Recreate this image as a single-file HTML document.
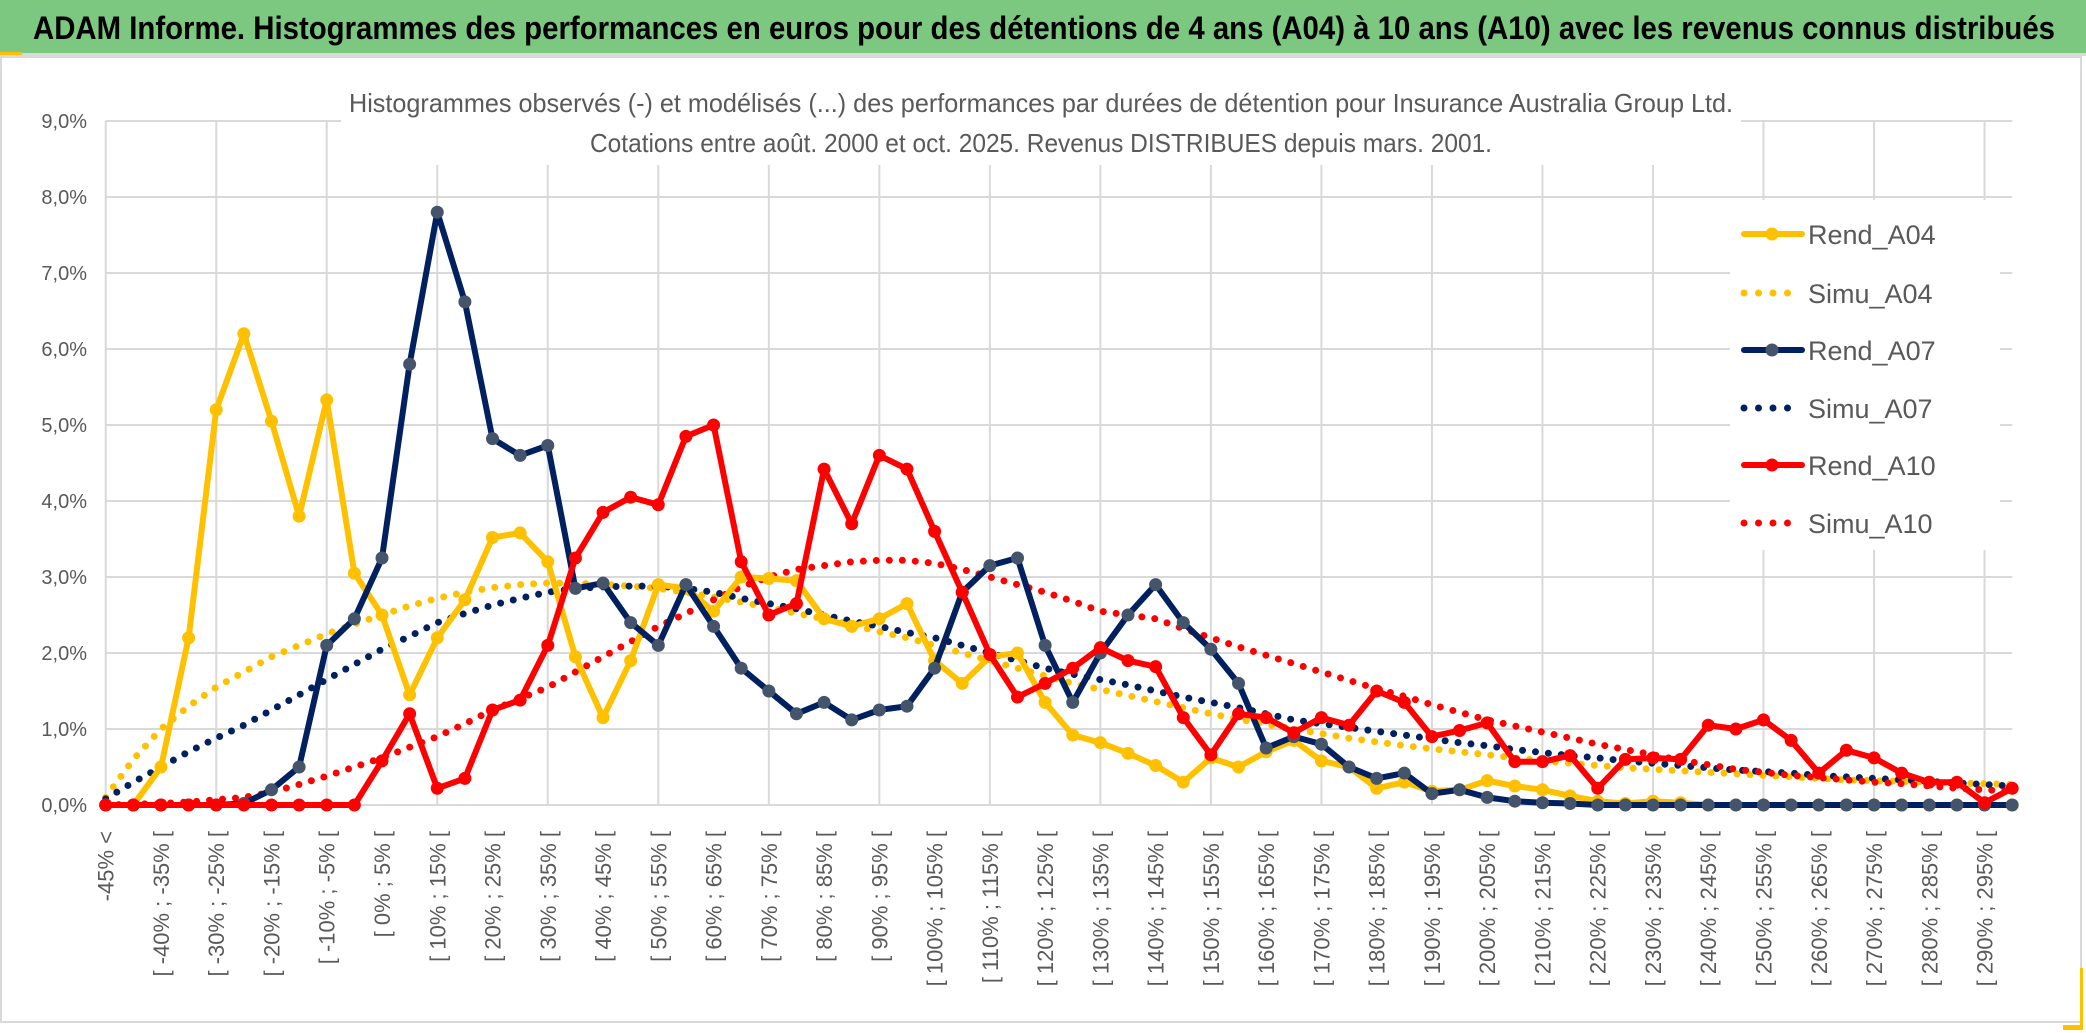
<!DOCTYPE html>
<html><head><meta charset="utf-8"><style>
html,body{margin:0;padding:0;background:#fff;}
svg{display:block;}
text{font-family:"Liberation Sans Narrow","Liberation Sans",sans-serif;}
</style></head><body>
<svg id="chart" width="2086" height="1033" viewBox="0 0 2086 1033" xmlns="http://www.w3.org/2000/svg">
<rect x="0" y="0" width="2086" height="53" fill="#7DC880"/>
<rect x="0" y="53" width="2086" height="3" fill="#d9d9d9"/>
<rect x="0" y="52" width="22" height="3" fill="#FFC000"/>
<text x="33" y="39" font-size="32" font-weight="bold" fill="#000" textLength="2022" lengthAdjust="spacingAndGlyphs">ADAM Informe. Histogrammes des performances en euros pour des détentions de 4 ans (A04) à 10 ans (A10) avec les revenus connus distribués</text>
<rect x="1" y="57" width="2080" height="965" fill="none" stroke="#d9d9d9" stroke-width="2"/>
<rect x="2080" y="968" width="3" height="62" fill="#FFC000"/>
<rect x="2063" y="1025" width="20" height="5" fill="#FFC000"/>
<g id="grid"></g>
<rect x="341" y="62" width="1400" height="103" fill="#fff"/>
<text x="1041" y="112" font-size="26" fill="#595959" text-anchor="middle" textLength="1384" lengthAdjust="spacingAndGlyphs">Histogrammes observés (-) et modélisés (...) des performances par durées de détention pour Insurance Australia Group Ltd.</text>
<text x="1041" y="152" font-size="26" fill="#595959" text-anchor="middle" textLength="902" lengthAdjust="spacingAndGlyphs">Cotations entre août. 2000 et oct. 2025. Revenus DISTRIBUES depuis mars. 2001.</text>
<g id="yaxis"></g>
<g id="xaxis"></g>
<g id="series"></g>
<g id="legend"></g>
</svg>
<script>
const yTicks = [0,1,2,3,4,5,6,7,8,9];
const yTickLabels = ["0,0%","1,0%","2,0%","3,0%","4,0%","5,0%","6,0%","7,0%","8,0%","9,0%"];
const categories = (function(){const c=["-45% <"];for(let k=1;k<70;k++){const a=-50+5*k,b=-45+5*k;c.push("[ "+a+"% ; "+b+"% [");}return c;})();
const rendA04 = [0,0,0.5,2.2,5.2,6.2,5.05,3.8,5.33,3.05,2.5,1.45,2.2,2.7,3.52,3.58,3.2,1.95,1.15,1.9,2.9,2.85,2.55,3.0,2.98,2.95,2.45,2.35,2.45,2.65,1.9,1.6,1.95,2.0,1.35,0.92,0.82,0.68,0.52,0.3,0.62,0.5,0.7,0.85,0.58,0.5,0.22,0.3,0.18,0.2,0.32,0.25,0.2,0.12,0.05,0.02,0.05,0.03,0,0,0,0,0,0,0,0,0,0,0,0];
const simuA04 = [0.1,0.6,1.0,1.3,1.55,1.75,1.95,2.1,2.25,2.38,2.5,2.62,2.72,2.8,2.86,2.9,2.92,2.92,2.9,2.88,2.85,2.8,2.74,2.67,2.6,2.52,2.45,2.37,2.28,2.2,2.1,2.0,1.9,1.8,1.7,1.6,1.52,1.44,1.36,1.28,1.2,1.13,1.06,1.0,0.94,0.88,0.83,0.78,0.74,0.7,0.66,0.62,0.58,0.55,0.52,0.49,0.47,0.45,0.43,0.41,0.39,0.37,0.35,0.33,0.32,0.31,0.3,0.29,0.28,0.27];
const rendA07 = [0,0,0,0,0,0.02,0.2,0.5,2.1,2.45,3.25,5.8,7.8,6.62,4.82,4.6,4.73,2.85,2.92,2.4,2.1,2.9,2.35,1.8,1.5,1.2,1.35,1.12,1.25,1.3,1.8,2.8,3.15,3.25,2.1,1.35,2.0,2.5,2.9,2.4,2.05,1.6,0.75,0.9,0.8,0.5,0.35,0.42,0.15,0.2,0.1,0.05,0.03,0.02,0,0,0,0,0,0,0,0,0,0,0,0,0,0,0,0];
const simuA07 = [0.08,0.3,0.5,0.7,0.88,1.05,1.25,1.45,1.65,1.85,2.05,2.22,2.4,2.52,2.63,2.72,2.8,2.85,2.87,2.88,2.88,2.85,2.8,2.72,2.65,2.58,2.5,2.42,2.35,2.27,2.2,2.1,2.0,1.9,1.8,1.72,1.65,1.58,1.5,1.42,1.35,1.28,1.2,1.12,1.07,1.02,0.97,0.92,0.87,0.82,0.78,0.73,0.69,0.65,0.62,0.58,0.55,0.52,0.49,0.46,0.44,0.42,0.39,0.37,0.35,0.33,0.31,0.29,0.27,0.25];
const rendA10 = [0,0,0,0,0,0,0,0,0,0,0.58,1.2,0.22,0.35,1.25,1.38,2.1,3.25,3.85,4.05,3.95,4.85,5.0,3.2,2.5,2.65,4.42,3.7,4.6,4.42,3.6,2.8,1.98,1.42,1.6,1.8,2.07,1.9,1.82,1.15,0.66,1.2,1.15,0.95,1.15,1.05,1.5,1.35,0.9,0.98,1.08,0.57,0.57,0.65,0.22,0.6,0.62,0.6,1.05,1.0,1.12,0.85,0.42,0.72,0.62,0.42,0.3,0.3,0.03,0.22];
const simuA10 = [0,0.01,0.02,0.04,0.07,0.1,0.17,0.27,0.38,0.5,0.62,0.76,0.9,1.07,1.25,1.4,1.55,1.75,1.95,2.15,2.35,2.52,2.7,2.87,3.0,3.1,3.15,3.2,3.22,3.22,3.18,3.1,3.0,2.9,2.8,2.68,2.55,2.5,2.45,2.32,2.2,2.08,1.97,1.86,1.75,1.64,1.53,1.43,1.32,1.22,1.12,1.04,0.96,0.88,0.8,0.73,0.66,0.59,0.53,0.47,0.43,0.39,0.36,0.33,0.3,0.28,0.25,0.22,0.2,0.18];

const NS="http://www.w3.org/2000/svg";
const X0=105.7, DX=27.63, Y0=805, DY=76.0;
const xScale=i=>X0+i*DX;
const yScale=v=>Y0-v*DY;
function mk(tag,attrs,parent){const e=document.createElementNS(NS,tag);for(const k in attrs)e.setAttribute(k,attrs[k]);parent.appendChild(e);return e;}

const grid=document.getElementById('grid');
yTicks.forEach((t,i)=>{
  const l=mk('line',{x1:X0,x2:xScale(categories.length-1),y1:yScale(t),y2:yScale(t),stroke:'#d9d9d9','stroke-width':2},grid);
  
  
});
for(let i=0;i<categories.length;i+=4){
  const l=mk('line',{x1:xScale(i),x2:xScale(i),y1:yScale(9),y2:yScale(0),stroke:'#d9d9d9','stroke-width':2},grid);
  
  
}
const ya=document.getElementById('yaxis');
yTicks.forEach((t,i)=>{
  const tx=mk('text',{x:87,y:yScale(t)+7,'font-size':20,fill:'#595959','text-anchor':'end'},ya);
  tx.textContent=yTickLabels[i];
  
  
});
const xa=document.getElementById('xaxis');
categories.forEach((c,i)=>{
  if(i%2) return;
  const x=xScale(i)+8, y=831;
  const tx=mk('text',{x:x,y:y,'font-size':22,fill:'#595959','text-anchor':'end',transform:'rotate(-90 '+x+' '+y+')'},xa);
  tx.textContent=c;
  
  
});

const lgBg=mk('rect',{x:1730,y:200,width:270,height:350,fill:'#fff'},document.getElementById('legend'));



const ser=document.getElementById('series');
function pts(arr){return arr.map((v,i)=>xScale(i).toFixed(1)+','+yScale(v).toFixed(1)).join(' ');}
const seriesDefs=[
  {name:'simu-a04',data:simuA04,color:'#FFC000',dotted:true},
  {name:'simu-a07',data:simuA07,color:'#002060',dotted:true},
  {name:'simu-a10',data:simuA10,color:'#FF0000',dotted:true},
  {name:'rend-a04',data:rendA04,color:'#FFC000',marker:'#FFC000'},
  {name:'rend-a07',data:rendA07,color:'#002060',marker:'#44546A'},
  {name:'rend-a10',data:rendA10,color:'#FF0000',marker:'#FF0000'}
];
seriesDefs.forEach(s=>{
  const g=mk('g',{},ser);
  
  
  if(s.dotted){
    const p=mk('polyline',{points:pts(s.data),fill:'none',stroke:s.color,'stroke-width':7,'stroke-linecap':'round','stroke-dasharray':'0 13'},g);
    
    
  } else {
    const p=mk('polyline',{points:pts(s.data),fill:'none',stroke:s.color,'stroke-width':6,'stroke-linejoin':'round'},g);
    
    
    s.data.forEach((v,i)=>{
      const c=mk('circle',{cx:xScale(i),cy:yScale(v),r:6.5,fill:s.marker},g);
      
      
    });
  }
});

const lg=document.getElementById('legend');
const legendItems=[
  {label:'Rend_A04',color:'#FFC000',marker:'#FFC000',y:234},
  {label:'Simu_A04',color:'#FFC000',dotted:true,y:293},
  {label:'Rend_A07',color:'#002060',marker:'#44546A',y:350},
  {label:'Simu_A07',color:'#002060',dotted:true,y:408},
  {label:'Rend_A10',color:'#FF0000',marker:'#FF0000',y:465},
  {label:'Simu_A10',color:'#FF0000',dotted:true,y:523}
];
legendItems.forEach(it=>{
  const g=mk('g',{},lg);
  
  
  if(it.dotted){
    mk('line',{x1:1744,x2:1790,y1:it.y,y2:it.y,stroke:it.color,'stroke-width':7,'stroke-linecap':'round','stroke-dasharray':'0 14.5'},g);
  } else {
    mk('line',{x1:1744,x2:1802,y1:it.y,y2:it.y,stroke:it.color,'stroke-width':6,'stroke-linecap':'round'},g);
    mk('circle',{cx:1772,cy:it.y,r:6.5,fill:it.marker},g);
  }
  const t=mk('text',{x:1808,y:it.y+10,'font-size':27,fill:'#595959'},g);
  t.textContent=it.label;
  
  
});
</script>
</body></html>
